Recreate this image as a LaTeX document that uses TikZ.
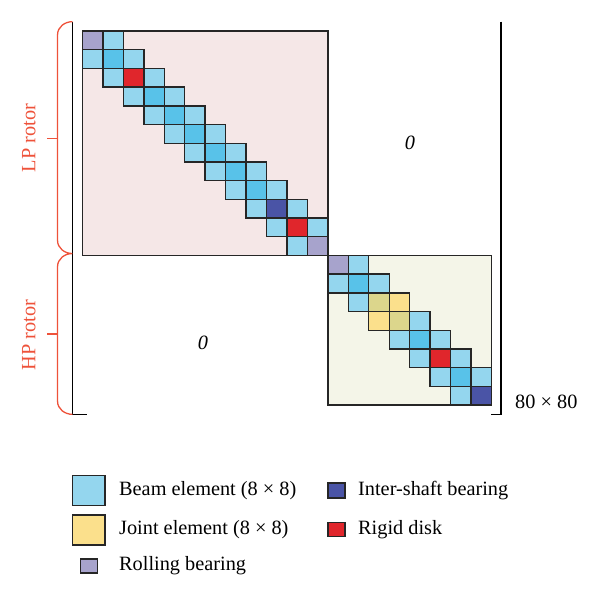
\documentclass[tikz,border=0pt]{standalone}
\usepackage{xcolor}
\usepackage{fontspec}
\setmainfont{Liberation Serif}
\usetikzlibrary{positioning}

\definecolor{beamblue}{RGB}{148,214,238}
\definecolor{overblue}{RGB}{88,194,233}
\definecolor{rollgray}{RGB}{167,163,204}
\definecolor{diskred}{RGB}{224,38,44}
\definecolor{shaftblue}{RGB}{74,84,166}
\definecolor{jointyellow}{RGB}{251,224,140}
\definecolor{overjoint}{RGB}{220,214,140}
\definecolor{lpback}{RGB}{245,231,231}
\definecolor{hpback}{RGB}{244,245,232}
\definecolor{rotorred}{RGB}{238,82,58}

\begin{document}
\begin{tikzpicture}[x=20.45pt, y=-18.7pt]
		\tikzstyle{Cell} = [rectangle, minimum width=20.45pt, minimum height=18.7pt, inner sep=0pt, outer sep=0pt, draw=black!85, line width=1.4pt]
		\tikzstyle{beam} = [Cell, fill=beamblue]
		\tikzstyle{beamtwo} = [Cell, fill=overblue]
		\tikzstyle{joint} = [Cell, fill=jointyellow]
		\tikzstyle{jointtwo} = [Cell, fill=overjoint]
		\tikzstyle{roll} = [Cell, fill=rollgray]
		\tikzstyle{disk} = [Cell, fill=diskred]
		\tikzstyle{shaft} = [Cell, fill=shaftblue]
		\tikzstyle{Text} = [inner sep=0pt, font=\fontsize{20.3}{24}\selectfont]
		\tikzstyle{bracket} = [line width=1.5pt, black]
		\tikzstyle{brace} = [line width=1.3pt, rotorred]
		
		\useasboundingbox (-4.034,-1.658) rectangle (25.306,30.321);
		
		\draw [line width=1.3pt, black!85, fill=lpback] (0,0) rectangle (12,12);
		\draw [line width=1.3pt, black!85, fill=hpback] (12,12) rectangle (20,20);
		
		% LP rotor
		\node (m0-0) [roll] at (0.5,0.5) {}; \node (m0-1) [beam] at (1.5,0.5) {};
		\node (m1-0) [beam] at (0.5,1.5) {}; \node (m1-1) [beamtwo] at (1.5,1.5) {}; \node (m1-2) [beam] at (2.5,1.5) {};
		\node (m2-1) [beam] at (1.5,2.5) {}; \node (m2-2) [disk] at (2.5,2.5) {}; \node (m2-3) [beam] at (3.5,2.5) {};
		\node (m3-2) [beam] at (2.5,3.5) {}; \node (m3-3) [beamtwo] at (3.5,3.5) {}; \node (m3-4) [beam] at (4.5,3.5) {};
		\node (m4-3) [beam] at (3.5,4.5) {}; \node (m4-4) [beamtwo] at (4.5,4.5) {}; \node (m4-5) [beam] at (5.5,4.5) {};
		\node (m5-4) [beam] at (4.5,5.5) {}; \node (m5-5) [beamtwo] at (5.5,5.5) {}; \node (m5-6) [beam] at (6.5,5.5) {};
		\node (m6-5) [beam] at (5.5,6.5) {}; \node (m6-6) [beamtwo] at (6.5,6.5) {}; \node (m6-7) [beam] at (7.5,6.5) {};
		\node (m7-6) [beam] at (6.5,7.5) {}; \node (m7-7) [beamtwo] at (7.5,7.5) {}; \node (m7-8) [beam] at (8.5,7.5) {};
		\node (m8-7) [beam] at (7.5,8.5) {}; \node (m8-8) [beamtwo] at (8.5,8.5) {}; \node (m8-9) [beam] at (9.5,8.5) {};
		\node (m9-8) [beam] at (8.5,9.5) {}; \node (m9-9) [shaft] at (9.5,9.5) {}; \node (m9-10) [beam] at (10.5,9.5) {};
		\node (m10-9) [beam] at (9.5,10.5) {}; \node (m10-10) [disk] at (10.5,10.5) {}; \node (m10-11) [beam] at (11.5,10.5) {};
		\node (m11-10) [beam] at (10.5,11.5) {}; \node (m11-11) [roll] at (11.5,11.5) {};
		
		% HP rotor
		\node (m12-12) [roll] at (12.5,12.5) {}; \node (m12-13) [beam] at (13.5,12.5) {};
		\node (m13-12) [beam] at (12.5,13.5) {}; \node (m13-13) [beamtwo] at (13.5,13.5) {}; \node (m13-14) [beam] at (14.5,13.5) {};
		\node (m14-13) [beam] at (13.5,14.5) {}; \node (m14-14) [jointtwo] at (14.5,14.5) {}; \node (m14-15) [joint] at (15.5,14.5) {};
		\node (m15-14) [joint] at (14.5,15.5) {}; \node (m15-15) [jointtwo] at (15.5,15.5) {}; \node (m15-16) [beam] at (16.5,15.5) {};
		\node (m16-15) [beam] at (15.5,16.5) {}; \node (m16-16) [beamtwo] at (16.5,16.5) {}; \node (m16-17) [beam] at (17.5,16.5) {};
		\node (m17-16) [beam] at (16.5,17.5) {}; \node (m17-17) [disk] at (17.5,17.5) {}; \node (m17-18) [beam] at (18.5,17.5) {};
		\node (m18-17) [beam] at (17.5,18.5) {}; \node (m18-18) [beamtwo] at (18.5,18.5) {}; \node (m18-19) [beam] at (19.5,18.5) {};
		\node (m19-18) [beam] at (18.5,19.5) {}; \node (m19-19) [shaft] at (19.5,19.5) {};
		
		\draw [bracket] (-0.49,-0.5) -- (-0.49,20.5) -- (0.2,20.5);
		\draw [bracket] (20.47,-0.5) -- (20.47,20.5) -- (19.97,20.5);
		
		\draw [brace] (-0.49,-0.5) to[out=180, in=90] (-1.22,0.2) -- (-1.22,11.2) to[out=-90, in=180] (-0.5,11.9)
			to[out=180, in=90] (-1.22,12.6) -- (-1.22,19.8) to[out=-90, in=180] (-0.49,20.5);
		\draw [brace] (-1.22,5.75) -- (-1.76,5.75);
		\draw [brace] (-1.22,16.2) -- (-1.76,16.2);
		\node (lp) [Text, rotorred, rotate=90] at (-2.63,5.72) {LP rotor};
		\node (hp) [Text, rotorred, rotate=90] at (-2.63,16.27) {HP rotor};
		
		\node (zup) [Text] at (16.01,6.0) {\itshape 0};
		\node (zlow) [Text] at (5.89,16.67) {\itshape 0};
		\node (size) [Text, anchor=west] at (21.15,19.82) {80 × 80};
		
		% legend
		\node (beamkey) [beam, minimum width=32.3pt, minimum height=30.7pt, line width=1.2pt] at (0.31,24.57) {};
		\node (jointkey) [joint, minimum width=32.3pt, minimum height=30pt, line width=1.2pt] at (0.31,26.68) {};
		\node (rollkey) [roll, minimum width=16.6pt, minimum height=14pt, line width=1.1pt] at (0.318,28.61) {};
		\node (shaftkey) [shaft, minimum width=17pt, minimum height=15pt, line width=1.1pt] at (12.42,24.57) {};
		\node (diskkey) [disk, minimum width=17pt, minimum height=14pt, line width=1.1pt] at (12.42,26.68) {};
		\node (beamtxt) [Text, right=14pt of beamkey] {Beam element (8 × 8)};
		\node (jointtxt) [Text, right=14pt of jointkey] {Joint element (8 × 8)};
		\node (rolltxt) [Text, right=21.7pt of rollkey] {Rolling bearing};
		\node (shafttxt) [Text, right=13pt of shaftkey] {Inter-shaft bearing};
		\node (disktxt) [Text, right=13pt of diskkey] {Rigid disk};
\end{tikzpicture}
\end{document}
